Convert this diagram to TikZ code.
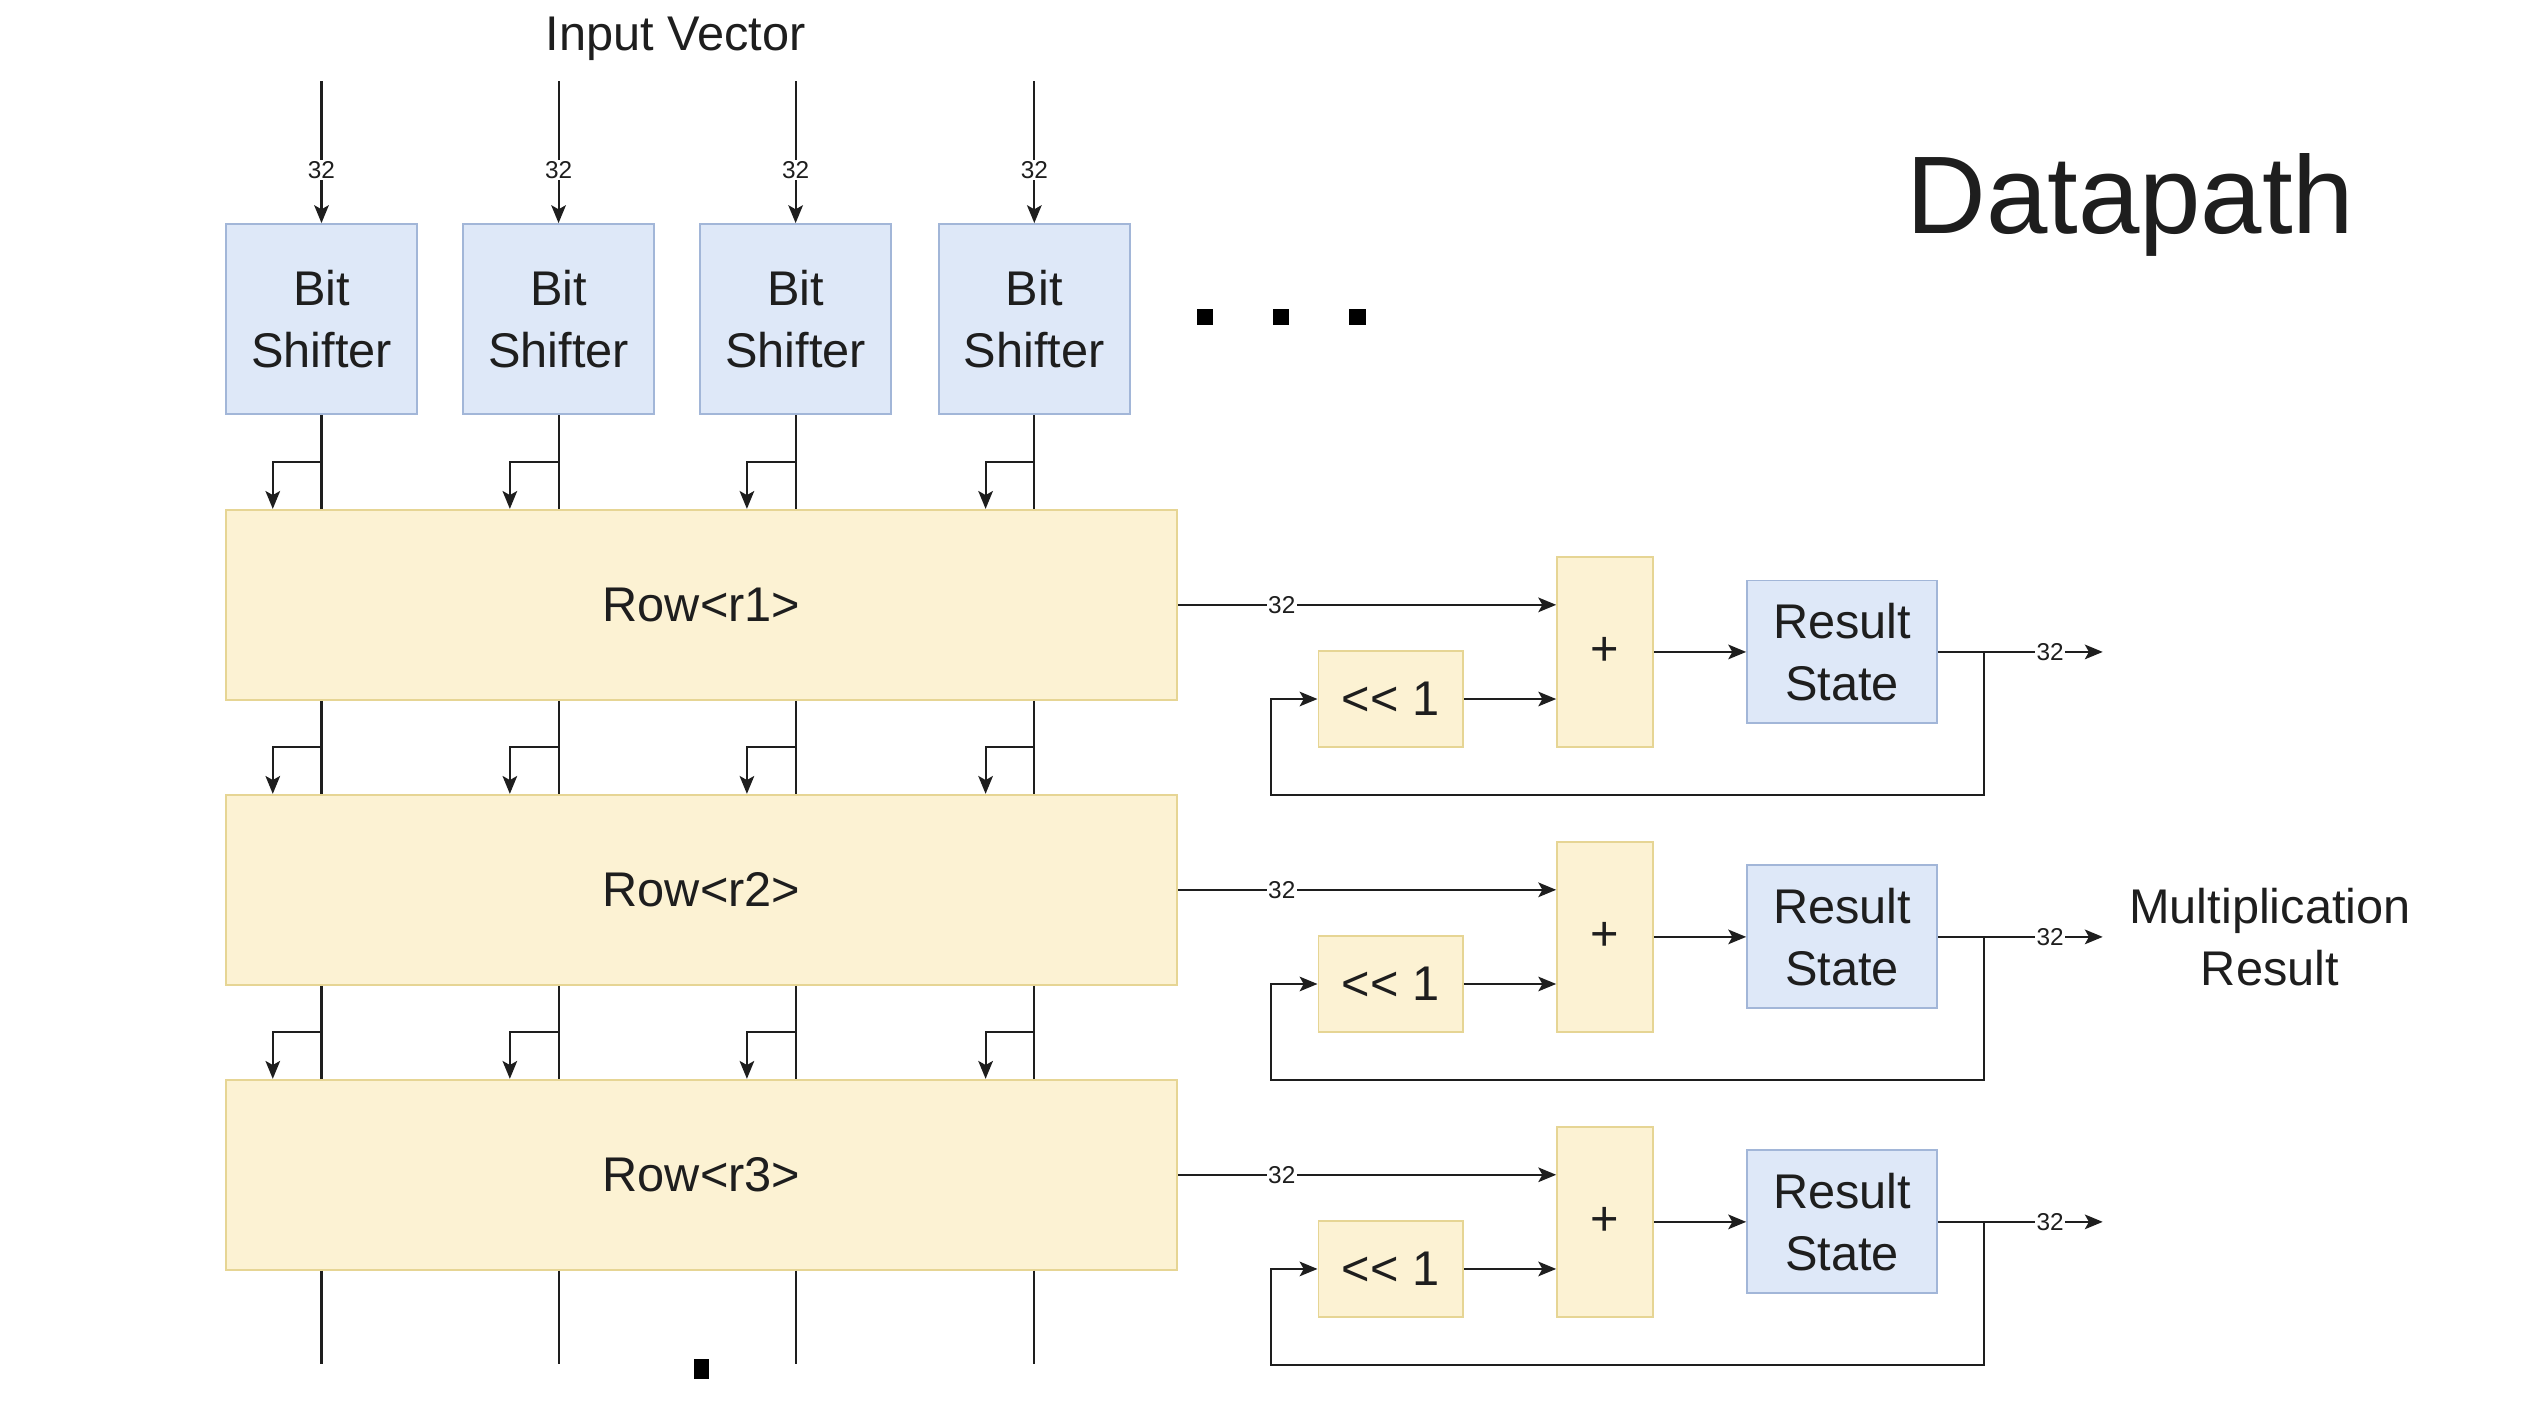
\documentclass[tikz,border=0pt]{standalone}
\usepackage{fontspec}
\setmainfont{Liberation Sans}[Ligatures=TeXOff]
\usetikzlibrary{arrows.meta,calc}
\definecolor{bfill}{HTML}{DEE8F8}
\definecolor{bdraw}{HTML}{A2B6D8}
\definecolor{yfill}{HTML}{FCF2D3}
\definecolor{ydraw}{HTML}{E6D594}
\definecolor{ink}{HTML}{1E1E1E}
\begin{document}
\begin{tikzpicture}[x=1pt,y=-1pt,
  txt/.style={font=\fontsize{30}{38}\selectfont, text=ink, align=center},
  bluebox/.style={txt, draw=bdraw, fill=bfill, line width=1.2pt, inner sep=0pt},
  yelbox/.style={txt, draw=ydraw, fill=yfill, line width=1.2pt, inner sep=0pt},
  wire/.style={draw=ink, line width=1.3pt},
  arr/.style={wire, -{Stealth[length=11pt,width=9pt,inset=2.5pt]}},
  lbl/.style={fill=white, inner sep=1pt, text=ink, font=\fontsize{15}{15}\selectfont},
  blk/.style={fill=black, inner sep=0pt, minimum width=10pt, minimum height=10pt}
]
\useasboundingbox (0,0) rectangle (1568,878.2);

% titles
\node[txt, anchor=base] (title) at (416,31) {Input Vector};
\node[font=\fontsize{68}{68}\selectfont, text=ink, anchor=base] (dp) at (1312,144) {Datapath};
\node[txt] (mr) at (1398,577) {Multiplication\\Result};

% bit shifters
\foreach \x [count=\k] in {198,344,490,637} {
  \node[bluebox, minimum width=118pt, minimum height=117pt] (bs\k) at (\x,196.5) {Bit\\Shifter};
  \coordinate (in\k) at (\x,50);
  \draw[arr] (in\k) -- node[lbl,pos=0.625]{32} (bs\k.north);
}

% dots
\node[blk] (d1) at (742,195) {};
\node[blk] (d2) at (789,195) {};
\node[blk] (d3) at (836,195) {};
\node[blk, minimum width=9pt, minimum height=12pt] (d4) at (432,843) {};

% rows and accumulators
\foreach \r/\cy in {1/372.5,2/548,3/723.5} {
  \node[yelbox, minimum width=586pt, minimum height=117pt] (row\r) at (432,\cy) {Row<r\r>};
  \node[yelbox, minimum width=59pt, minimum height=117pt] (plus\r) at (988.5,\cy+29) {+};
  \node[yelbox, minimum width=89pt, minimum height=59pt] (shl\r) at (856.5,\cy+58) {<< 1};
  \node[bluebox, minimum width=117pt, minimum height=88pt] (res\r) at (1134.5,\cy+29) {Result\\State};
  \coordinate (out\r) at (1295,\cy+29);
  \coordinate (j\r) at (1222,\cy+29);
  \coordinate (fb\r) at (783,\cy+117);
  \draw[arr] (row\r.east) -- node[lbl,pos=0.274]{32} (row\r.east -| plus\r.west);
  \draw[arr] (shl\r.east) -- (shl\r.east -| plus\r.west);
  \draw[arr] (plus\r.east) -- (res\r.west);
  \draw[arr] (res\r.east) -- node[lbl,pos=0.68]{32} (out\r);
  \draw[arr] (j\r) |- (fb\r) |- (shl\r.west);
}

% column wires
\foreach \x [count=\k] in {198,344,490,637} {
  \draw[wire] (bs\k.south) -- (bs\k.south |- row1.north);
  \coordinate (t\k) at ($(bs\k.south)!0.5!(bs\k.south |- row1.north)$);
  \draw[arr] (t\k) -| ($(row1.north -| t\k)+(-30,0)$);
  \foreach \r/\n in {1/2,2/3} {
    \draw[wire] (row\r.south -| bs\k) -- (row\n.north -| bs\k);
    \coordinate (m\k\r) at ($(row\r.south -| bs\k)!0.5!(row\n.north -| bs\k)$);
    \draw[arr] (m\k\r) -| ($(row\n.north -| bs\k)+(-30,0)$);
  }
  \coordinate (e\k) at (\x,840);
  \draw[wire] (row3.south -| bs\k) -- (e\k);
}
\end{tikzpicture}
\end{document}
